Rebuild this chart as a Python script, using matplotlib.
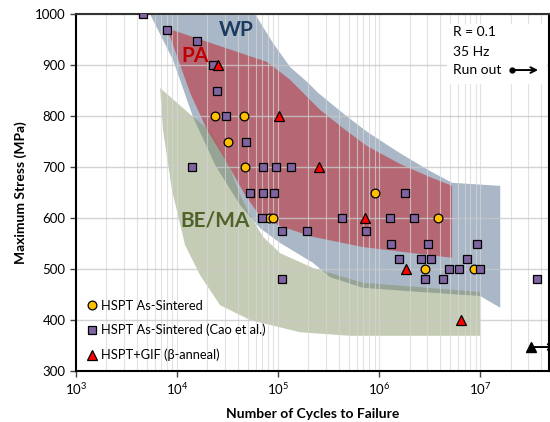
import numpy as np
import matplotlib
matplotlib.use('Agg')
import matplotlib.pyplot as plt
from matplotlib.patches import Rectangle

plt.rcParams['font.family'] = ['Lato', 'DejaVu Sans']

# HSPT As-Sintered (circles)
sint_N = [23800, 46400, 31800, 46600, 81500, 90000, 918000, 3.86e6, 2.87e6, 8.6e6]
sint_S = [800, 800, 750, 700, 600, 600, 650, 600, 500, 500]

# HSPT As-Sintered (Cao et al.) (squares)
cao_N = [4630, 7910, 15900, 22500, 25100, 30600, 48200, 14000, 70600, 95100,
         135500, 52800, 70600, 90800, 69500, 426000, 1.29e6, 2.19e6, 109000, 195000,
         738000, 1.80e6, 1.32e6, 3.08e6, 9.27e6, 1.57e6, 2.61e6, 3.25e6, 7.43e6, 4.93e6,
         6.19e6, 1.0e7, 2.87e6, 4.27e6, 109000, 3.64e7]
cao_S = [1000, 968, 948, 900, 850, 800, 750, 700, 700, 700,
         700, 650, 650, 650, 600, 600, 600, 600, 575, 575,
         575, 650, 550, 550, 550, 520, 520, 520, 520, 500,
         500, 500, 480, 480, 480, 480]

# HSPT+GIF (beta-anneal) (triangles)
gif_N = [25600, 102000, 256000, 731000, 1.86e6, 6.44e6]
gif_S = [900, 800, 700, 600, 500, 400]

# run out
runout_N = [3.18e7]
runout_S = [347]

# scatter bands (cycles, stress) outlines
wp_N = [5160, 59100, 89100, 131500, 193600, 250000, 460800, 760000, 1.61e6, 3.2e6, 5.28e6, 1.58e7,
        1.58e7, 1.0e7, 2.55e6, 695000, 327000, 222000, 105000, 66400, 42100, 23800, 14400, 9120, 5400]
wp_S = [1000, 1000, 943, 896, 867, 845, 802, 769, 727, 692, 669, 663,
        424, 447, 455, 463, 484, 512, 551, 580, 625, 704, 798, 910, 1000]

pa_N = [7960, 77800, 131500, 260500, 460800, 760000, 1.61e6, 3.2e6, 5.28e6,
        5.28e6, 2.17e6, 695000, 222000, 105000, 65000, 47100, 31300, 19800, 13500]
pa_S = [972, 906, 871, 812, 773, 741, 706, 680, 663,
        522, 531, 543, 563, 584, 606, 645, 708, 773, 845]

bema_N = [6790, 14100, 22200, 32000, 42100, 52800, 71000, 105000, 222000, 695000, 1.0e7,
          1.0e7, 516000, 165000, 52800, 26700, 16900, 12000, 8900, 7260]
bema_S = [855, 800, 767, 708, 645, 606, 563, 531, 502, 473, 455,
          369, 369, 376, 400, 429, 488, 547, 655, 773]

fig = plt.figure(figsize=(5.5, 4.22), dpi=100)
ax = fig.add_axes([76 / 550, 51 / 422, 473 / 550, 357 / 422])
ax.set_xscale('log')
ax.set_xlim(1e3, 4.8e7)
ax.set_ylim(300, 1000)

ax.fill(wp_N, wp_S, color='#a9b7c7', lw=0, zorder=1)
ax.fill(bema_N, bema_S, color='#7f8f5c', alpha=0.45, lw=0, zorder=1.1)
ax.fill(pa_N, pa_S, color='#bb4a55', alpha=0.72, lw=0, zorder=1.2)

ax.set_axisbelow('line')
ax.grid(True, which='major', axis='y', color='#c8c8c8', lw=1.0, alpha=0.8)
ax.grid(True, which='both', axis='x', color='#d6d6d6', lw=0.8, alpha=0.7)

ax.text(38400, 969, 'WP', color='#1f3a5f', fontsize=15, fontweight='bold', ha='center', va='center', zorder=2)
ax.text(15100, 918, 'PA', color='#c00000', fontsize=15, fontweight='bold', ha='center', va='center', zorder=2)
ax.text(23800, 596, 'BE/MA', color='#4f6228', fontsize=15, fontweight='bold', ha='center', va='center', zorder=2)

mk = dict(ls='none', mec='black', mew=0.9, zorder=3)
ax.plot(sint_N, sint_S, 'o', ms=6.3, mfc='#ffc000', label='HSPT As-Sintered', **mk)
ax.plot(cao_N, cao_S, 's', ms=6.3, mfc='#8064a2', label='HSPT As-Sintered (Cao et al.)', **mk)
ax.plot(gif_N, gif_S, '^', ms=6.5, mfc='#ff0000', label='HSPT+GIF (β-anneal)', **mk)
ax.plot(runout_N, runout_S, '^', ms=6.5, mfc='black', ls='none', mec='black', zorder=3)
for n, s in zip(runout_N, runout_S):
    ax.annotate('', xy=(n * 1.75, s), xytext=(n, s), annotation_clip=False,
                arrowprops=dict(arrowstyle='->', lw=1.4, color='black', shrinkA=0, shrinkB=0))

# conditions box
ax.add_patch(Rectangle((0.784, 0.804), 0.212, 0.168, transform=ax.transAxes,
                       facecolor='white', edgecolor='none', zorder=1.8))
tk = dict(transform=ax.transAxes, fontsize=10, ha='left', va='center', zorder=2)
ax.text(0.797, 0.950, 'R = 0.1', **tk)
ax.text(0.797, 0.894, '35 Hz', **tk)
ax.text(0.797, 0.843, 'Run out', **tk)
ax.plot([0.922], [0.843], 'o', ms=3.5, color='black', transform=ax.transAxes, zorder=2)
ax.annotate('', xy=(0.977, 0.843), xytext=(0.922, 0.843), xycoords='axes fraction',
            arrowprops=dict(arrowstyle='->', lw=1.4, color='black', shrinkA=0, shrinkB=0))

ax.set_yticks(np.arange(300, 1001, 100))
ax.set_xticks([1e3, 1e4, 1e5, 1e6, 1e7])
ax.tick_params(axis='both', which='major', labelsize=9.5, direction='out', length=4, width=1, color='#444444')
ax.tick_params(axis='x', which='minor', length=0)
for sp in ax.spines.values():
    sp.set_linewidth(1.5)
    sp.set_color('black')
ax.spines['top'].set_color('#333333')

ax.set_xlabel('Number of Cycles to Failure', fontsize=10, fontweight='bold', labelpad=8)
ax.set_ylabel('Maximum Stress (MPa)', fontsize=10, fontweight='bold', labelpad=6)

leg = ax.legend(loc='lower left', frameon=False, fontsize=9.3, handlelength=0.9,
                handletextpad=0.3, labelspacing=0.95, borderaxespad=0.35, borderpad=0.4)
leg.set_zorder(4)

fig.savefig('out.png', dpi=100)
